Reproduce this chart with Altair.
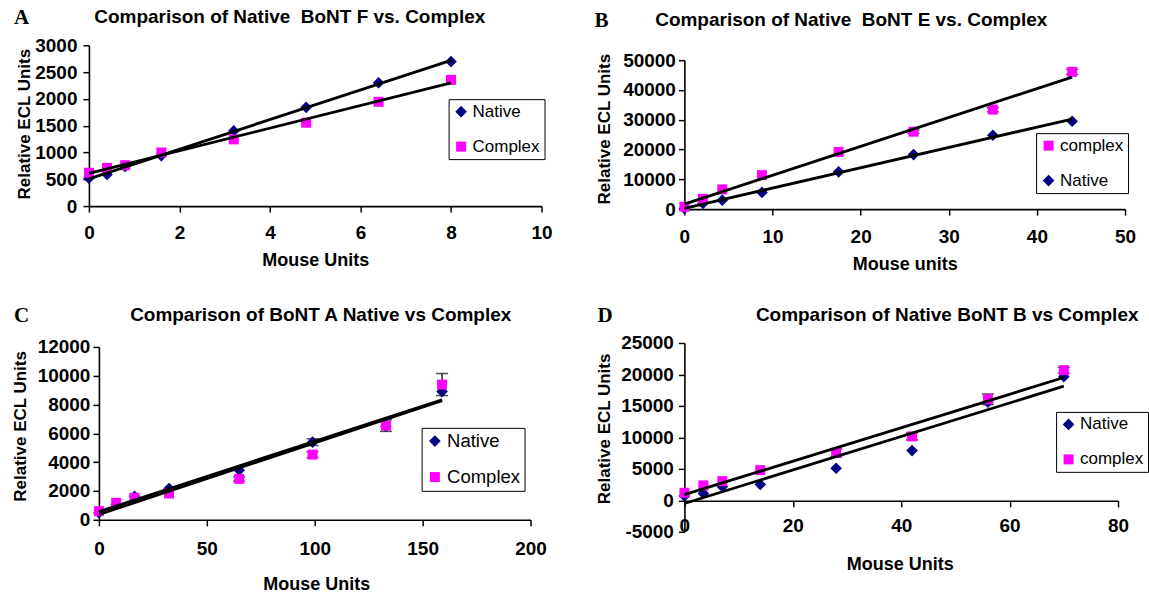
import altair as alt
import pandas as pd

FONT = "Liberation Sans"
SERIF = "Liberation Serif"
NAVY = "#000080"
MAGENTA = "#FF00FF"
YTITLE = "Relative ECL Units"

# ---------------- Panel A ----------------
a_letter = "A"
a_title = "Comparison of Native\u00a0 BoNT F vs. Complex"
a_x = [0, 0.4, 0.8, 1.6, 3.2, 4.8, 6.4, 8.0]
a_native = [518, 591, 740, 939, 1402, 1841, 2299, 2695]
a_complex = [622, 713, 762, 1000, 1244, 1555, 1945, 2354]
a_native_err = [0, 0, 0, 0, 0, 0, 0, 0]
a_complex_err = [0, 0, 0, 0, 0, 0, 0, 0]
a_xticks = [0, 2, 4, 6, 8, 10]
a_yticks = [0, 500, 1000, 1500, 2000, 2500, 3000]
a_xtitle = "Mouse Units"
a_legend = ["Native", "Complex"]

# ---------------- Panel B ----------------
b_letter = "B"
b_title = "Comparison of Native\u00a0 BoNT E vs. Complex"
b_x = [0, 2.1, 4.3, 8.8, 17.5, 26, 35, 44]
b_native = [200, 1900, 3000, 5600, 12500, 18300, 24800, 29500]
b_complex = [800, 3400, 6600, 11400, 19200, 26000, 33400, 46100]
b_native_err = [0, 0, 0, 0, 0, 0, 0, 0]
b_complex_err = [0, 0, 0, 0, 0, 600, 700, 850]
b_xticks = [0, 10, 20, 30, 40, 50]
b_yticks = [0, 10000, 20000, 30000, 40000, 50000]
b_xtitle = "Mouse units"
b_legend = ["complex", "Native"]

# ---------------- Panel C ----------------
c_letter = "C"
c_title = "Comparison of BoNT A Native vs Complex"
c_x = [0, 8, 16.5, 32.5, 65, 99, 133, 159]
c_native = [490, 1060, 1640, 2170, 3440, 5390, 6500, 8900]
c_complex = [600, 1180, 1530, 1830, 2840, 4530, 6540, 9390]
c_native_err = [0, 0, 0, 0, 0, 230, 0, 0]
c_complex_err = [0, 0, 0, 0, 150, 200, 400, 765]
c_xticks = [0, 50, 100, 150, 200]
c_yticks = [0, 2000, 4000, 6000, 8000, 10000, 12000]
c_xtitle = "Mouse Units"
c_legend = ["Native", "Complex"]

# ---------------- Panel D ----------------
d_letter = "D"
d_title = "Comparison of Native BoNT B vs Complex"
d_x = [0, 3.5, 7, 14, 28, 42, 56, 70]
d_native = [680, 1100, 2160, 2530, 5100, 7900, 15580, 19630]
d_complex = [1200, 2370, 3050, 4790, 7530, 10160, 16050, 20680]
d_native_err = [0, 0, 0, 0, 0, 0, 0, 0]
d_complex_err = [0, 0, 0, 0, 650, 560, 840, 450]
d_xticks = [0, 20, 40, 60, 80]
d_yticks = [-5000, 0, 5000, 10000, 15000, 20000, 25000]
d_xtitle = "Mouse Units"
d_legend = ["Native", "complex"]

CELL_W = 575
CELL_H = 297


def make_df(x, native_name, native, native_err, complex_name, complex_, complex_err):
    rows = []
    for name, vals, errs in [(native_name, native, native_err), (complex_name, complex_, complex_err)]:
        for xi, yi, ei in zip(x, vals, errs):
            rows.append({"x": xi, "y": yi, "series": name, "err": ei, "lo": yi - ei, "hi": yi + ei})
    return pd.DataFrame(rows)


def style_for(name):
    if name.lower() == "native":
        return NAVY, "diamond", 135
    return MAGENTA, "square", 100


def text_layer(txt, x, y, font, size, weight="bold", align="center", angle=0):
    return alt.Chart(pd.DataFrame({"t": [txt]})).mark_text(
        font=font, fontSize=size, fontWeight=weight, align=align, baseline="alphabetic",
        color="black", angle=angle
    ).encode(x=alt.value(x), y=alt.value(y), text="t:N")


def panel(df, legend_order, xticks, yticks, letter, title, xtitle, L):
    colors = [style_for(n)[0] for n in legend_order]
    shapes = [style_for(n)[1] for n in legend_order]
    sizes = [style_for(n)[2] for n in legend_order]
    xdom = [xticks[0], xticks[-1]]
    ydom = [yticks[0], yticks[-1]]

    def xenc():
        return alt.X("x:Q", scale=alt.Scale(domain=xdom, range=[L["x0"], L["x1"]], nice=False, zero=False),
                     axis=alt.Axis(values=xticks, title="", format="d", labelFlush=False,
                                   labelBaseline="alphabetic", labelPadding=L["xlp"],
                                   offset=-(CELL_H - L["xaxis"]), labelOverlap=False))

    def yenc(field):
        return alt.Y(field + ":Q", scale=alt.Scale(domain=ydom, range=[L["ybot"], L["ytop"]], nice=False, zero=False),
                     axis=alt.Axis(values=yticks, title="", labelFlush=False,
                                   labelExpr="datum.value < 0 ? '-' + format(-datum.value, 'd') : format(datum.value, 'd')",
                                   labelPadding=L["ylp"], offset=-L["x0"], labelOverlap=False))

    leg = alt.Legend(title=None, orient="none", legendX=L["lx"], legendY=L["ly"],
                     strokeColor="black", fillColor="white", padding=4, rowPadding=17,
                     columnPadding=0,
                     labelFontSize=L["lfs"], labelFont=FONT, labelFontWeight="normal",
                     labelColor="black", symbolSize=90, symbolStrokeWidth=0, labelOffset=3)

    layers = []
    edf = df[df["err"] > 0]
    if len(edf):
        base_e = alt.Chart(edf)
        layers.append(base_e.mark_rule(color="black", strokeWidth=1.3).encode(
            x=xenc(), y=yenc("lo"), y2="hi:Q"))
        layers.append(base_e.mark_tick(color="black", orient="horizontal", size=12, thickness=1.5).encode(
            x=xenc(), y=yenc("lo")))
        layers.append(base_e.mark_tick(color="black", orient="horizontal", size=12, thickness=1.5).encode(
            x=xenc(), y=yenc("hi")))

    layers.append(alt.Chart(df).mark_point(filled=True, opacity=1).encode(
        x=xenc(), y=yenc("y"),
        color=alt.Color("series:N", scale=alt.Scale(domain=legend_order, range=colors), legend=leg),
        shape=alt.Shape("series:N", scale=alt.Scale(domain=legend_order, range=shapes), legend=leg),
        size=alt.Size("series:N", scale=alt.Scale(domain=legend_order, range=sizes), legend=None),
    ))

    layers.append(alt.Chart(df).transform_regression("x", "y", groupby=["series"]).mark_line(
        color="black", strokeWidth=2.8).encode(x=xenc(), y=yenc("y"), detail="series:N"))

    layers.append(text_layer(letter, L["let"][0], L["let"][1], SERIF, 21, align="left"))
    layers.append(text_layer(title, L["tit"][0], L["tit"][1], FONT, 19))
    layers.append(text_layer(xtitle, L["xt"][0], L["xt"][1], FONT, 18))
    layers.append(text_layer(YTITLE, L["yt"][0], L["yt"][1], FONT, 17, angle=270))

    return alt.layer(*layers).properties(width=CELL_W, height=CELL_H)


dfA = make_df(a_x, "Native", a_native, a_native_err, "Complex", a_complex, a_complex_err)
dfB = make_df(b_x, "Native", b_native, b_native_err, "complex", b_complex, b_complex_err)
dfC = make_df(c_x, "Native", c_native, c_native_err, "Complex", c_complex, c_complex_err)
dfD = make_df(d_x, "Native", d_native, d_native_err, "complex", d_complex, d_complex_err)

# pixel layout of each panel inside its cell (styling only)
LA = dict(x0=89, x1=542, ytop=45, ybot=206, xaxis=206, xlp=26, ylp=6,
          lx=449, ly=99, lfs=17, let=(14, 24), tit=(290, 23), xt=(316, 266), yt=(30.5, 124))
LB = dict(x0=110, x1=551, ytop=60, ybot=209, xaxis=209, xlp=27, ylp=3,
          lx=462, ly=133, lfs=17, let=(20, 27), tit=(277, 26), xt=(331, 270), yt=(35.5, 129))
LC = dict(x0=99, x1=531, ytop=50, ybot=223, xaxis=223, xlp=29, ylp=3,
          lx=422, ly=131, lfs=18.5, let=(14, 25), tit=(321, 24), xt=(317, 293), yt=(26.5, 129.5))
LD = dict(x0=110, x1=544, ytop=46, ybot=235, xaxis=204, xlp=25, ylp=5,
          lx=482, ly=115, lfs=17, let=(23, 25), tit=(373, 24), xt=(326, 273), yt=(35.5, 132))

pA = panel(dfA, a_legend, a_xticks, a_yticks, a_letter, a_title, a_xtitle, LA)
pB = panel(dfB, b_legend, b_xticks, b_yticks, b_letter, b_title, b_xtitle, LB)
pC = panel(dfC, c_legend, c_xticks, c_yticks, c_letter, c_title, c_xtitle, LC)
pD = panel(dfD, d_legend, d_xticks, d_yticks, d_letter, d_title, d_xtitle, LD)

chart = alt.concat(pA, pB, pC, pD, columns=2, spacing=0, bounds="flush").resolve_scale(
    color="independent", shape="independent", size="independent"
).properties(
    padding=0,
    background="white",
).configure_axis(
    domainColor="black", domainWidth=1.6, tickColor="black", tickWidth=1.5, tickSize=6,
    labelFont=FONT, labelFontSize=19, labelFontWeight="bold", labelColor="black",
    grid=False,
).configure_view(strokeWidth=0)

chart.save("out.html", embed_options={"renderer": "svg", "actions": False})
